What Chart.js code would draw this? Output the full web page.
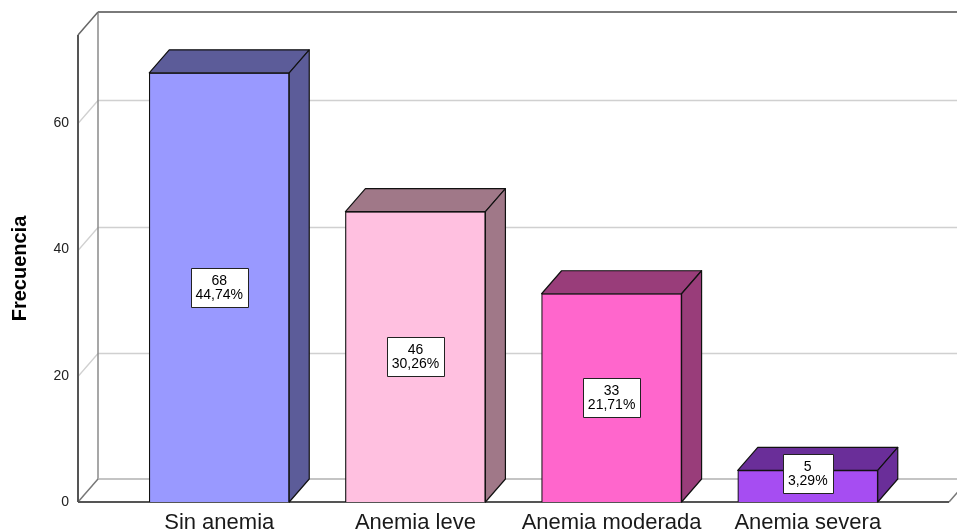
<!DOCTYPE html>
<html lang="es">
  <head>
    <meta charset="UTF-8" />
    <title>Frecuencia de anemia</title>
    <style>
      body {
        margin: 0;
        padding: 0;
        background: #fff;
        overflow: hidden;
      }
      #chart {
        display: block;
      }
    </style>
  </head>
  <body>
    <canvas id="chart" width="957" height="531"></canvas>

    <script src="https://cdn.jsdelivr.net/npm/chart.js"></script>
    <script>
      // data
      const categories = ["Sin anemia", "Anemia leve", "Anemia moderada", "Anemia severa"];
      const counts = [68, 46, 33, 5];
      const percents = ["44,74%", "30,26%", "21,71%", "3,29%"];
      const yTicks = [0, 20, 40, 60];
      const yMax = 74;

      const frontColors = ["#9999FF", "#FFC0E0", "#FF66CC", "#A64DF2"];
      const sideColors = ["#5C5C99", "#A07888", "#993D7A", "#6A2E99"];

      // depth of the 3d box
      const DX = 20;
      const DY = -23;

      function line(ctx, x1, y1, x2, y2, color, w) {
        ctx.beginPath();
        ctx.strokeStyle = color;
        ctx.lineWidth = w || 1;
        ctx.moveTo(x1, y1);
        ctx.lineTo(x2, y2);
        ctx.stroke();
      }

      // back wall, side wall, floor and grid lines
      const framePlugin = {
        id: "frame3d",
        beforeDatasetsDraw(chart) {
          const ctx = chart.ctx;
          const a = chart.chartArea;
          const y = chart.scales.y;
          const W = chart.width;
          ctx.save();

          yTicks.forEach((v) => {
            if (v === 0) return;
            const py = Math.round(y.getPixelForValue(v)) + 0.5;
            line(ctx, a.left + DX, py + DY, W, py + DY, "#d0d0d0", 1.3);
            line(ctx, a.left, py, a.left + DX, py + DY, "#d0d0d0", 1.3);
          });

          // back wall edges
          line(ctx, a.left + DX, a.top + DY, W, a.top + DY, "#7a7a7a", 2);
          line(ctx, a.left + DX, a.top + DY, a.left + DX, a.bottom + DY, "#8a8a8a", 1.5);
          // floor
          line(ctx, a.left + DX, a.bottom + DY, W, a.bottom + DY, "#b0b0b0", 1.5);
          line(ctx, a.left, a.bottom, a.left + DX, a.bottom + DY, "#777", 1.5);
          line(ctx, a.right, a.bottom, a.right + DX, a.bottom + DY, "#777", 1.5);
          line(ctx, a.left, a.bottom, a.right, a.bottom, "#555", 2);
          // side wall edges
          line(ctx, a.left, a.top, a.left + DX, a.top + DY, "#666", 1.5);
          line(ctx, a.left, a.top, a.left, a.bottom, "#555", 2);

          ctx.restore();
        },
        afterDatasetsDraw(chart) {
          const ctx = chart.ctx;
          const meta = chart.getDatasetMeta(0);
          ctx.save();
          ctx.lineJoin = "round";
          meta.data.forEach((bar, i) => {
            const half = bar.width / 2;
            const l = bar.x - half;
            const r = bar.x + half;
            const t = bar.y;
            const b = bar.base;
            ctx.fillStyle = sideColors[i];
            ctx.strokeStyle = "#111";
            ctx.lineWidth = 1.2;
            // top face
            ctx.beginPath();
            ctx.moveTo(l, t);
            ctx.lineTo(l + DX, t + DY);
            ctx.lineTo(r + DX, t + DY);
            ctx.lineTo(r, t);
            ctx.closePath();
            ctx.fill();
            ctx.stroke();
            // side face
            ctx.beginPath();
            ctx.moveTo(r, t);
            ctx.lineTo(r + DX, t + DY);
            ctx.lineTo(r + DX, b + DY);
            ctx.lineTo(r, b);
            ctx.closePath();
            ctx.fill();
            ctx.stroke();

            // value label box
            ctx.font = "14px 'Liberation Sans', Arial, sans-serif";
            const t1 = String(counts[i]);
            const t2 = percents[i];
            const tw = Math.max(ctx.measureText(t1).width, ctx.measureText(t2).width);
            const bw = Math.round(tw + 10);
            const bh = 39;
            let cy = (t + b) / 2;
            if (cy + bh / 2 > b - 9) cy = b - 9 - bh / 2;
            const bx = Math.round(bar.x - bw / 2) + 0.5;
            const by = Math.round(cy - bh / 2) + 0.5;
            ctx.fillStyle = "#fff";
            ctx.fillRect(bx, by, bw, bh);
            ctx.strokeStyle = "#222";
            ctx.lineWidth = 1;
            ctx.strokeRect(bx, by, bw, bh);
            ctx.fillStyle = "#000";
            ctx.textAlign = "center";
            ctx.textBaseline = "middle";
            ctx.fillText(t1, bar.x, by + 13);
            ctx.fillText(t2, bar.x, by + 27);
          });
          ctx.restore();
        },
      };

      const ctx = document.getElementById("chart").getContext("2d");
      const chart = new Chart(ctx, {
        type: "bar",
        data: {
          datasets: [
            {
              label: "Frecuencia",
              data: counts.map((v, i) => ({ x: i, y: v })),
              backgroundColor: frontColors,
              borderColor: "#111",
              borderWidth: 1.2,
              barThickness: 140,
            },
          ],
        },
        options: {
          responsive: false,
          animation: false,
          devicePixelRatio: 1,
          layout: { padding: { top: 35, right: 8, left: 0, bottom: 0 } },
          plugins: {
            legend: { display: false },
            tooltip: { enabled: false },
          },
          scales: {
            x: {
              type: "linear",
              min: -0.72,
              max: 3.72,
              offset: false,
              grid: { display: false, drawTicks: false },
              border: { display: false },
              afterBuildTicks: (scale) => {
                scale.ticks = categories.map((c, i) => ({ value: i }));
              },
              afterFit: (scale) => {
                scale.height = 29;
              },
              ticks: {
                autoSkip: false,
                maxRotation: 0,
                padding: 8,
                color: "#1a1a1a",
                font: { family: "'Liberation Sans', Arial, sans-serif", size: 22 },
                callback: (v) => categories[v],
              },
            },
            y: {
              min: 0,
              max: yMax,
              grid: { display: false, drawTicks: false },
              border: { display: false },
              afterBuildTicks: (scale) => {
                scale.ticks = yTicks.map((v) => ({ value: v }));
              },
              afterFit: (scale) => {
                scale.width = 78;
              },
              ticks: {
                padding: 9,
                color: "#222",
                font: { family: "'Liberation Sans', Arial, sans-serif", size: 14 },
              },
              title: {
                display: true,
                text: "Frecuencia",
                color: "#000",
                padding: { top: 8, bottom: 0 },
                font: { family: "'Liberation Sans', Arial, sans-serif", size: 20, weight: "bold" },
              },
            },
          },
        },
        plugins: [framePlugin],
      });
    </script>
  </body>
</html>
